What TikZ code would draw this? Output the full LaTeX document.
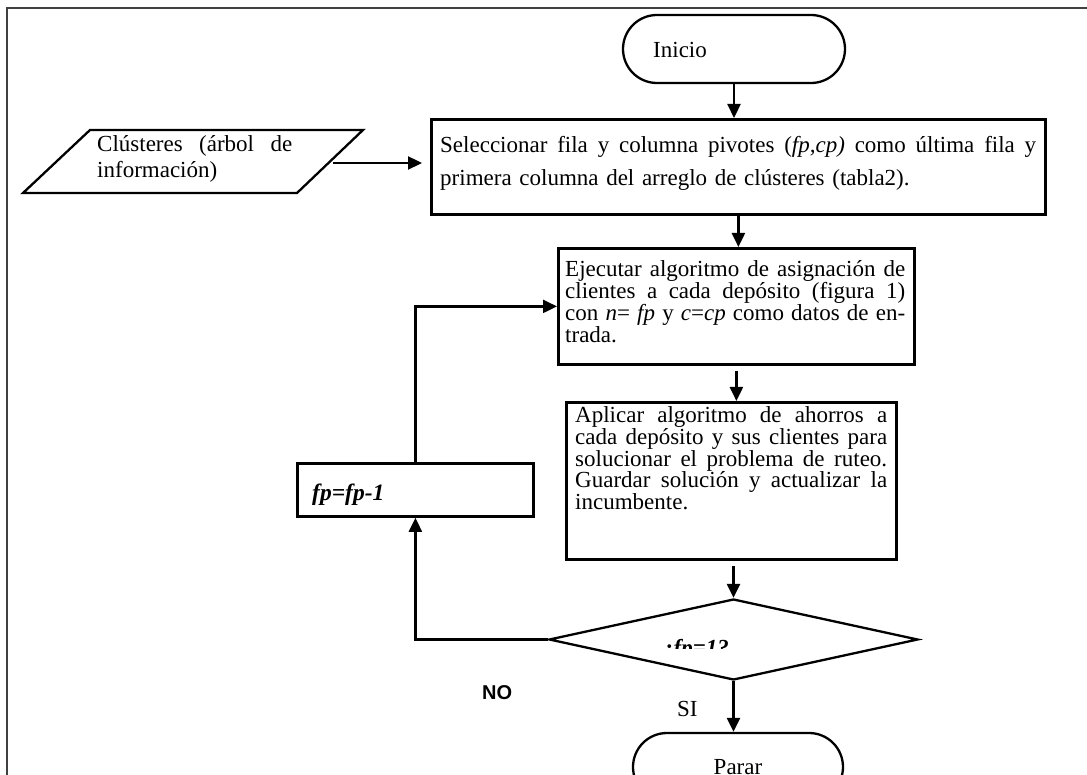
\documentclass[tikz,border=0pt]{standalone}
\usepackage{fontspec}
\setmainfont{Liberation Serif}
\newfontfamily\nofont{Liberation Sans}
\usetikzlibrary{shapes.geometric,shapes.misc,arrows.meta}
\setlength{\lineskiplimit}{-40pt}
\newcommand\jline[2]{\leavevmode\hbox to #1{\spaceskip=0.25em plus 1fil\relax #2}}
\begin{document}
\begin{tikzpicture}[x=1pt,y=-1pt,
  box/.style={draw,line width=2.8pt,inner sep=0pt,anchor=north west},
  term/.style={draw,line width=2.3pt,rounded rectangle,inner sep=0pt},
  txt/.style={inner sep=0pt,anchor=base west,align=left,font=\fontsize{23}{22}\selectfont},
  arr/.style={line width=2.3pt,-{Triangle[length=14pt,width=13pt]}},
  outline/.style={draw,line width=2.3pt},
]
\useasboundingbox (0,0) rectangle (1087,775);
\clip (0,0) rectangle (1087,775);
\draw[line width=1.6pt, black!75] (1087,8) -- (7,8) -- (7,780);

% start
\node[term, minimum width=222pt, minimum height=68pt] (inicio) at (734,49) {};
\node[txt] (tinicio) at (653,58) {Inicio};

% input (parallelogram)
\coordinate (p1) at (90,130);
\coordinate (p2) at (363,130);
\coordinate (p3) at (297,193);
\coordinate (p4) at (23,193);
\draw[outline, line join=miter] (p1) -- (p2) -- (p3) -- (p4) -- cycle;
\coordinate (cin) at (333,163);
\node[txt, text width=200pt, font=\fontsize{23}{26}\selectfont] (tclus) at (97,152) {\jline{195pt}{Clústeres (árbol de}\\información)};

% box 1
\node[box, minimum width=614pt, minimum height=95pt] (b1) at (430,118) {};
\node[txt, text width=600pt, font=\fontsize{23}{33}\selectfont] (t1) at (440,153) {\jline{596pt}{Seleccionar fila y columna pivotes (\textit{fp,cp)} como última fila y}\\primera columna del arreglo de clústeres (tabla2).};

% box 2
\node[box, minimum width=356pt, minimum height=116pt] (b2) at (557,247) {};
\node[txt, text width=344pt] (t2) at (565,277) {\jline{340pt}{Ejecutar algoritmo de asignación de}\\\jline{340pt}{clientes a cada depósito (figura 1)}\\\jline{340pt}{con \textit{n}= \textit{fp} y \textit{c}=\textit{cp} como datos de en-}\\trada.};

% box 3
\node[box, minimum width=330pt, minimum height=157pt] (b3) at (565,401) {};
\node[txt, text width=316pt] (t3) at (575,422) {\jline{312pt}{Aplicar algoritmo de ahorros a}\\\jline{312pt}{cada depósito y sus clientes para}\\\jline{312pt}{solucionar el problema de ruteo.}\\\jline{312pt}{Guardar solución y actualizar la}\\incumbente.};

% fp box
\node[box, minimum width=236pt, minimum height=53pt] (fpb) at (296,462) {};
\node[txt, font=\fontsize{23.5}{22}\selectfont\bfseries\itshape] (tfp) at (312,500) {fp=fp-1};

% decision
\node[diamond, draw, line width=2.3pt, minimum width=369pt, minimum height=81pt, inner sep=0pt] (dec) at (733.5,639.5) {};
\begin{scope}
\clip (600,600) rectangle (870,648);
\node[txt, font=\fontsize{23}{22}\selectfont\bfseries\itshape] (q) at (662,655) {¿fp=1?};
\end{scope}

% stop
\node[term, minimum width=210pt, minimum height=68pt, font=\fontsize{23}{22}\selectfont] (parar) at (738,767) {Parar};

% labels
\node[anchor=base west, inner sep=0pt, font=\nofont\bfseries\fontsize{20}{20}\selectfont] (no) at (482,699) {NO};
\node[txt] (si) at (677,716) {SI};

% connectors
\draw[arr] (inicio.south) -- (inicio.south |- b1.north);
\draw[arr, shorten >=8pt] (cin) -- (b1.west |- cin);
\draw[arr] (b1.south) -- (b1.south |- b2.north);
\draw[arr, shorten <=5pt] (b2.south) -- (b2.south |- b3.north);
\draw[arr, shorten <=5pt] (b3.south -| dec.north) -- (dec.north);
\draw[arr] (dec.west) -| (fpb.south);
\draw[arr] (fpb.north) |- (b2.west);
\draw[arr] (dec.south) -- (dec.south |- parar.north);
\end{tikzpicture}
\end{document}
